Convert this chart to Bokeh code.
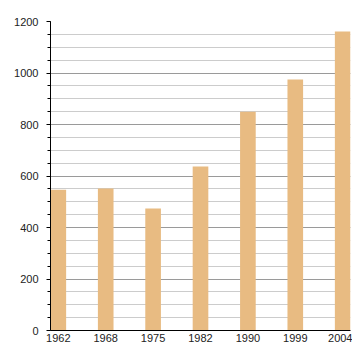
from bokeh.plotting import figure
from bokeh.models import Range1d, FixedTicker, SingleIntervalTicker, ColumnDataSource
from bokeh.embed import file_html
from bokeh.resources import INLINE

years = ["1962", "1968", "1975", "1982", "1990", "1999", "2004"]
values = [547, 551, 474, 637, 850, 975, 1161]

idx = list(range(len(years)))
bar_w = 0.33
src = ColumnDataSource(dict(x=idx, top=values))

p = figure(width=352, height=352, output_backend="svg", toolbar_location=None,
           x_range=Range1d(-bar_w / 2, len(years) - 1 + bar_w / 2),
           y_range=Range1d(0, 1200),
           min_border_left=50, min_border_right=2, min_border_top=21, min_border_bottom=22)
p.outline_line_color = None
p.background_fill_color = "white"
p.border_fill_color = "white"

p.vbar(x="x", top="top", width=bar_w, bottom=0, source=src,
       fill_color="#E8BB82", line_color=None)

# x axis
p.xaxis.ticker = FixedTicker(ticks=idx)
p.xaxis.major_label_overrides = {i: y for i, y in zip(idx, years)}
p.xaxis.major_tick_line_color = None
p.xaxis.minor_tick_line_color = None
p.xaxis.major_tick_out = 0
p.xaxis.major_tick_in = 0
p.xaxis.minor_tick_out = 0
p.xaxis.axis_line_color = "black"
p.xaxis.major_label_standoff = 3
p.xgrid.grid_line_color = None

# y axis
p.yaxis.ticker = SingleIntervalTicker(interval=200, num_minor_ticks=4)
p.yaxis.major_tick_out = 4
p.yaxis.major_tick_in = 0
p.yaxis.minor_tick_out = 3
p.yaxis.minor_tick_in = 0
p.yaxis.major_tick_line_color = "black"
p.yaxis.minor_tick_line_color = "black"
p.yaxis.axis_line_color = "black"
p.yaxis.major_label_standoff = 8
p.ygrid.ticker = SingleIntervalTicker(interval=200, num_minor_ticks=4)
p.ygrid.grid_line_color = "#9a9a9a"
p.ygrid.minor_grid_line_color = "#cccccc"

for ax in (p.xaxis, p.yaxis):
    ax.major_label_text_font = "Liberation Sans"
    ax.major_label_text_font_size = "11px"
    ax.major_label_text_color = "#222222"

open("out.html", "w").write(file_html(p, INLINE))
